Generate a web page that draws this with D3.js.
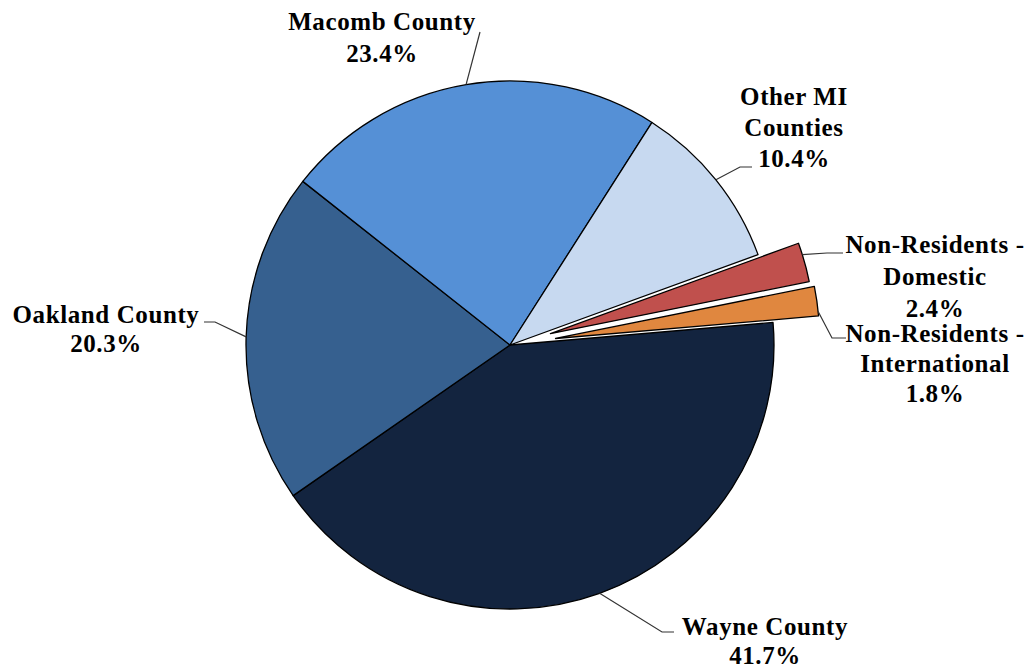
<!DOCTYPE html>
<html><head><meta charset="utf-8">
<script src="https://cdn.jsdelivr.net/npm/d3@7"></script>
<style>body{margin:0;background:#fff}svg{display:block}
.lbl{font-family:"Liberation Serif","Times New Roman",Times,serif;font-weight:bold;}</style>
</head><body>
<svg id="chart" width="1035" height="671"></svg>
<script>
// ---- data ----
const categories = ["Wayne County","Oakland County","Macomb County","Other MI Counties","Non-Residents - Domestic","Non-Residents - International"];
const values = [41.7, 20.3, 23.4, 10.4, 2.4, 1.8];
const labelLines = [["Wayne County"],["Oakland County"],["Macomb County"],["Other MI","Counties"],["Non-Residents -","Domestic"],["Non-Residents -","International"]];
const colors = ["#13243f","#36608f","#5590d6","#c7d9f0","#c0504d","#e0873f"];

// ---- layout (style) ----
const cx = 510, cy = 345, R = 264;
const startDeg = 85.1;
const explode = [0,0,0,0,42,46];
const labelLayout = [
  {x:765, y:635, gap:29, elbow:[662,632], end:[674,632]},
  {x:106, y:323, gap:29, elbow:[215,322], end:[204,322]},
  {x:382, y:30,  gap:32, elbow:[480,32], end:[480,32]},
  {x:794, y:105, gap:31, elbow:[740,167], end:[752,167]},
  {x:935, y:253, gap:32, elbow:[827,253], end:[843,253]},
  {x:935, y:342, gap:30, elbow:[832,338], end:[846,338]}
];

const svg = d3.select("#chart");
const data = categories.map((c,i)=>({name:c, value:values[i], i}));
const a0 = startDeg*Math.PI/180;
const pie = d3.pie().sort(null).value(d=>d.value).startAngle(a0).endAngle(a0+2*Math.PI);
const arcs = pie(data);
const arc = d3.arc().innerRadius(0).outerRadius(R);

const g = svg.append("g").attr("transform",`translate(${cx},${cy})`);
g.selectAll("path").data(arcs).join("path")
  .attr("d", arc)
  .attr("fill", d=>colors[d.data.i])
  .attr("stroke","#000").attr("stroke-width",1.3).attr("stroke-linejoin","round")
  .attr("transform", d=>{
    const m=(d.startAngle+d.endAngle)/2, o=explode[d.data.i];
    return `translate(${o*Math.sin(m)},${-o*Math.cos(m)})`;
  });

arcs.forEach(d=>{
  const i=d.data.i, L=labelLayout[i], m=(d.startAngle+d.endAngle)/2, o=explode[i];
  let px, py;
  if(o>0){
    const a = i===4 ? d.startAngle + (d.endAngle-d.startAngle)*0.3 : d.endAngle - (d.endAngle-d.startAngle)*0.15;
    px = cx + R*Math.sin(a) + o*Math.sin(m);
    py = cy - R*Math.cos(a) - o*Math.cos(m);
  } else {
    px = cx + R*Math.sin(m); py = cy - R*Math.cos(m);
  }
  svg.append("polyline")
    .attr("points", [[px,py], L.elbow, L.end].map(p=>p.join(",")).join(" "))
    .attr("fill","none").attr("stroke","#333").attr("stroke-width",1.2);
});

arcs.forEach(d=>{
  const i=d.data.i, L=labelLayout[i];
  const lines = labelLines[i].concat([d3.format(".1f")(values[i])+"%"]);
  const t = svg.append("text").attr("class","lbl")
    .attr("text-anchor","middle")
    .attr("font-size",25)
    .attr("letter-spacing","0.6px")
    .attr("fill","#000");
  lines.forEach((s,k)=>t.append("tspan").attr("x",L.x).attr("y",L.y+k*L.gap).text(s));
});
</script>
</body></html>
